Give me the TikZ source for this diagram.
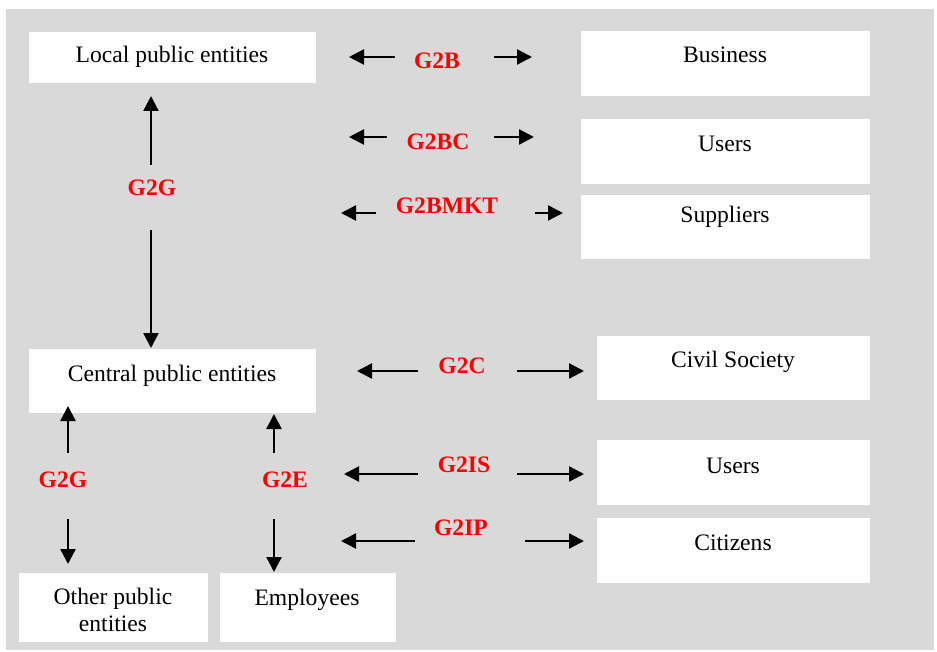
\documentclass[tikz,border=0pt]{standalone}
\usepackage{fontspec}
\setmainfont{Liberation Serif}
\usetikzlibrary{arrows.meta}
\definecolor{bggray}{HTML}{D9D9D9}
\begin{document}
\begin{tikzpicture}[x=1pt,y=-1pt,
  box/.style={fill=white,draw=none,inner sep=0pt,rectangle},
  txt/.style={anchor=base,inner sep=0pt,font=\fontsize{23.6}{26}\selectfont},
  lbl/.style={anchor=base,inner sep=0pt,text=red,font=\fontsize{23.6}{26}\selectfont\bfseries},
  arr/.style={line width=2.3pt,-{Triangle[length=15pt,width=15pt]}}]
\useasboundingbox (0,0) rectangle (937,652);
\fill[white] (0,0) rectangle (937,652);
\fill[bggray] (6,9) rectangle (934,650);
% boxes
\node[box,minimum width=287pt,minimum height=51pt] (loc) at (172.5,57.5) {};
\node[box,minimum width=289pt,minimum height=65pt] (bus) at (725.5,63.5) {};
\node[box,minimum width=289pt,minimum height=65pt] (usa) at (725.5,151.5) {};
\node[box,minimum width=289pt,minimum height=64pt] (sup) at (725.5,227) {};
\node[box,minimum width=287pt,minimum height=64pt] (cen) at (172.5,381) {};
\node[box,minimum width=189pt,minimum height=69pt] (oth) at (113.5,607.5) {};
\node[box,minimum width=176pt,minimum height=69pt] (emp) at (308,607.5) {};
\node[box,minimum width=273pt,minimum height=64pt] (civ) at (733.5,368) {};
\node[box,minimum width=273pt,minimum height=65pt] (usb) at (733.5,472.5) {};
\node[box,minimum width=273pt,minimum height=65pt] (cit) at (733.5,550.5) {};
% box texts
\node[txt] (tloc) at (172,63) {Local public entities};
\node[txt] (tbus) at (725,63) {Business};
\node[txt] (tusa) at (725,152) {Users};
\node[txt] (tsup) at (725,223) {Suppliers};
\node[txt] (tcen) at (172,381) {Central public entities};
\node[txt] (toth1) at (113,604) {Other public};
\node[txt] (toth2) at (113,631) {entities};
\node[txt] (temp) at (307,605) {Employees};
\node[txt] (tciv) at (733,367) {Civil Society};
\node[txt] (tusb) at (733,473) {Users};
\node[txt] (tcit) at (733,550) {Citizens};
% red labels
\node[lbl] (g2b) at (437,69) {G2B};
\node[lbl] (g2bc) at (438,150) {G2BC};
\node[lbl] (g2bmkt) at (447,214) {G2BMKT};
\node[lbl] (g2ga) at (152,196) {G2G};
\node[lbl] (g2c) at (462,373) {G2C};
\node[lbl] (g2is) at (464,472) {G2IS};
\node[lbl] (g2ip) at (461,535) {G2IP};
\node[lbl] (g2gb) at (63,487) {G2G};
\node[lbl] (g2e) at (285,487) {G2E};
% arrow end points
\coordinate (ga1) at (151,165); \coordinate (ga2) at (151,96);
\coordinate (ga3) at (151,230); \coordinate (ga4) at (151,348);
\coordinate (gb1) at (68,453); \coordinate (gb2) at (68,406);
\coordinate (gb3) at (68,519); \coordinate (gb4) at (68,564);
\coordinate (ge1) at (274,453); \coordinate (ge2) at (274,414);
\coordinate (ge3) at (274,519); \coordinate (ge4) at (274,572);
\coordinate (b1) at (395,57); \coordinate (b2) at (349,57);
\coordinate (b3) at (494,57); \coordinate (b4) at (532,57);
\coordinate (bc1) at (387,137); \coordinate (bc2) at (349,137);
\coordinate (bc3) at (494,137); \coordinate (bc4) at (534,137);
\coordinate (bm1) at (376,213); \coordinate (bm2) at (341,213);
\coordinate (bm3) at (535,213); \coordinate (bm4) at (563,213);
\coordinate (c1) at (418,371); \coordinate (c2) at (357,371);
\coordinate (c3) at (517,371); \coordinate (c4) at (584,371);
\coordinate (is1) at (418,474); \coordinate (is2) at (344,474);
\coordinate (is3) at (517,474); \coordinate (is4) at (584,474);
\coordinate (ip1) at (415,541); \coordinate (ip2) at (341,541);
\coordinate (ip3) at (525,541); \coordinate (ip4) at (584,541);
% arrows
\draw[arr] (ga1) -- (ga2); \draw[arr] (ga3) -- (ga4);
\draw[arr] (gb1) -- (gb2); \draw[arr] (gb3) -- (gb4);
\draw[arr] (ge1) -- (ge2); \draw[arr] (ge3) -- (ge4);
\draw[arr] (b1) -- (b2); \draw[arr] (b3) -- (b4);
\draw[arr] (bc1) -- (bc2); \draw[arr] (bc3) -- (bc4);
\draw[arr] (bm1) -- (bm2); \draw[arr] (bm3) -- (bm4);
\draw[arr] (c1) -- (c2); \draw[arr] (c3) -- (c4);
\draw[arr] (is1) -- (is2); \draw[arr] (is3) -- (is4);
\draw[arr] (ip1) -- (ip2); \draw[arr] (ip3) -- (ip4);
\end{tikzpicture}
\end{document}
